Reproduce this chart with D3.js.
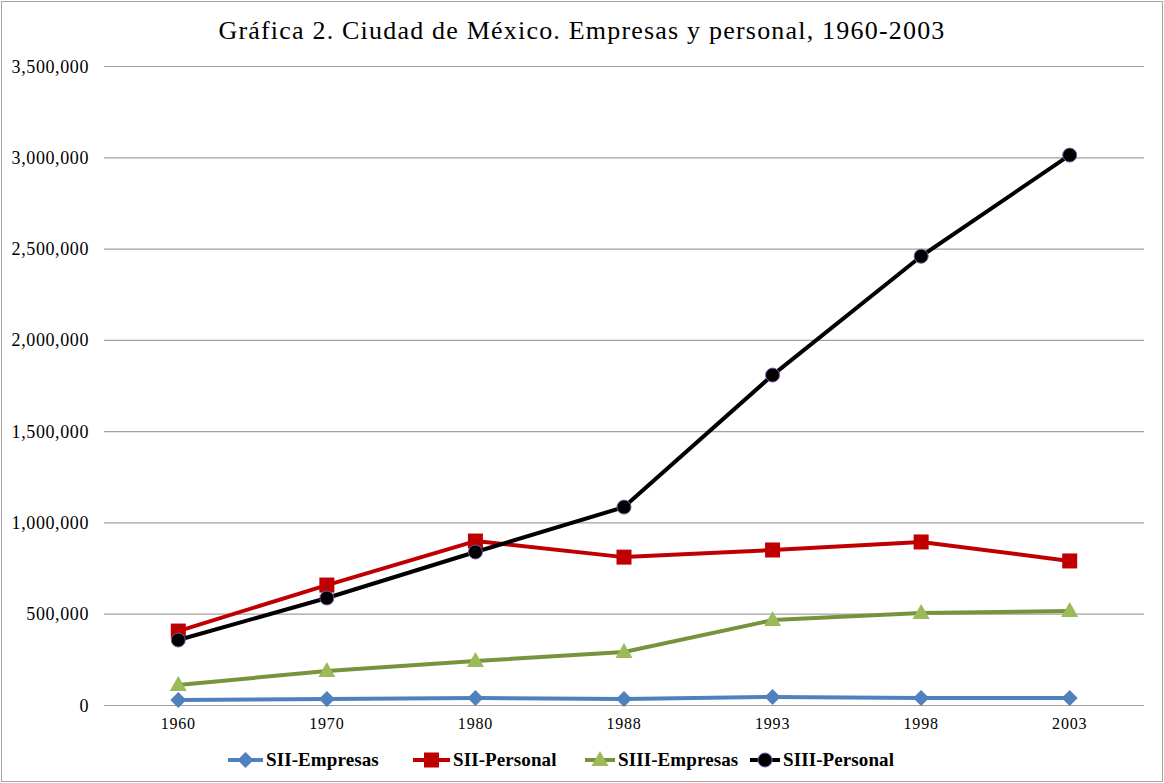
<!DOCTYPE html>
<html lang="es">
<head>
<meta charset="UTF-8">
<title>Gráfica 2</title>
<style>
    body { margin: 0; background: #fff; }
    svg text { font-family: "Liberation Serif", "Times New Roman", serif; fill: #000; }
</style>
</head>
<body>
<script src="https://cdn.jsdelivr.net/npm/d3@7/dist/d3.min.js"></script>
<div id="chart"></div>
<script>
    // data
    var years = ["1960", "1970", "1980", "1988", "1993", "1998", "2003"];
    var siiEmpresas = [27000, 33000, 38000, 33000, 44000, 38000, 38000];
    var siiPersonal = [405000, 657000, 898000, 810000, 849000, 893000, 789000];
    var siiiEmpresas = [110000, 186000, 241000, 290000, 465000, 504000, 515000];
    var siiiPersonal = [356000, 586000, 838000, 1084000, 1807000, 2458000, 3012000];
    var yTicks = [0, 500000, 1000000, 1500000, 2000000, 2500000, 3000000, 3500000];

    var series = [
        {name: "SII-Empresas", values: siiEmpresas, line: "#4f81bd", fill: "#4f81bd", stroke: "none", shape: "diamond"},
        {name: "SII-Personal", values: siiPersonal, line: "#c00000", fill: "#c00000", stroke: "none", shape: "square"},
        {name: "SIII-Empresas", values: siiiEmpresas, line: "#77933c", fill: "#9bbb59", stroke: "none", shape: "triangle"},
        {name: "SIII-Personal", values: siiiPersonal, line: "#000000", fill: "#000000", stroke: "#7b5ca8", shape: "circle"}
    ];

    var width = 1164, height = 783;
    var margin = {left: 104, right: 20, top: 66, bottom: 78};

    var svg = d3.select("#chart").append("svg")
        .attr("width", width).attr("height", height);

    svg.append("rect")
        .attr("x", 1.5).attr("y", 1.5)
        .attr("width", width - 3).attr("height", height - 3)
        .attr("fill", "#fff").attr("stroke", "#a6a6a6");

    var x = d3.scaleBand().domain(years)
        .range([margin.left, width - margin.right]).padding(0);
    var y = d3.scaleLinear().domain([0, 3500000])
        .range([height - margin.bottom, margin.top]);

    // gridlines + y labels
    var yAxis = svg.append("g")
        .attr("transform", "translate(" + margin.left + ",0)")
        .call(d3.axisLeft(y).tickValues(yTicks)
            .tickSize(-(width - margin.left - margin.right))
            .tickPadding(15)
            .tickFormat(function (d) { return d === 0 ? "0" : d3.format(",")(d); }));
    yAxis.select(".domain").remove();
    yAxis.selectAll(".tick line").attr("stroke", "#a0a0a0").attr("stroke-width", 1.2);
    yAxis.selectAll(".tick text")
        .style("font-size", "18px").style("letter-spacing", "0.6px")
        .attr("dy", "0.34em");

    // x labels
    var xAxis = svg.append("g")
        .attr("transform", "translate(0," + (height - margin.bottom) + ")")
        .call(d3.axisBottom(x).tickSize(0).tickPadding(0));
    xAxis.select(".domain").remove();
    xAxis.selectAll(".tick text")
        .style("font-size", "16px").style("letter-spacing", "0.8px")
        .attr("y", 24).attr("dy", 0);

    // title
    svg.append("text")
        .attr("x", 582).attr("y", 39)
        .attr("text-anchor", "middle")
        .style("font-size", "26px").style("letter-spacing", "1.2px")
        .text("Gráfica 2. Ciudad de México. Empresas y personal, 1960-2003");

    var line = d3.line()
        .x(function (d, i) { return x(years[i]) + x.bandwidth() / 2; })
        .y(function (d) { return y(d); });

    function marker(g, s, cx, cy) {
        if (s.shape === "diamond") {
            g.append("path").attr("d", "M" + cx + "," + (cy - 8) + "L" + (cx + 8) + "," + cy +
                "L" + cx + "," + (cy + 8) + "L" + (cx - 8) + "," + cy + "Z")
                .attr("fill", s.fill);
        } else if (s.shape === "square") {
            g.append("rect").attr("x", cx - 7.5).attr("y", cy - 7.5)
                .attr("width", 15).attr("height", 15).attr("fill", s.fill);
        } else if (s.shape === "triangle") {
            g.append("path").attr("d", "M" + cx + "," + (cy - 9) + "L" + (cx + 8.5) + "," + (cy + 6) +
                "L" + (cx - 8.5) + "," + (cy + 6) + "Z")
                .attr("fill", s.fill);
        } else {
            g.append("circle").attr("cx", cx).attr("cy", cy).attr("r", 7)
                .attr("fill", s.fill).attr("stroke", s.stroke).attr("stroke-width", 1);
        }
    }

    series.forEach(function (s) {
        var g = svg.append("g");
        g.append("path").datum(s.values)
            .attr("d", line)
            .attr("fill", "none")
            .attr("stroke", s.line)
            .attr("stroke-width", 4)
            .attr("stroke-linejoin", "round");
        s.values.forEach(function (v, i) {
            marker(g, s, x(years[i]) + x.bandwidth() / 2, y(v));
        });
    });

    // legend
    var legendX = [228, 413, 585, 750];
    var legendW = [35, 37, 30, 30];
    series.forEach(function (s, i) {
        var g = svg.append("g");
        var ly = 760;
        g.append("line")
            .attr("x1", legendX[i]).attr("x2", legendX[i] + legendW[i])
            .attr("y1", ly).attr("y2", ly)
            .attr("stroke", s.line).attr("stroke-width", 4);
        marker(g, s, legendX[i] + legendW[i] / 2, ly);
        g.append("text")
            .attr("x", legendX[i] + legendW[i] + 3).attr("y", ly + 6)
            .style("font-size", "19px").style("font-weight", "bold")
            .style("letter-spacing", "0.1px")
            .text(s.name);
    });
</script>
</body>
</html>
